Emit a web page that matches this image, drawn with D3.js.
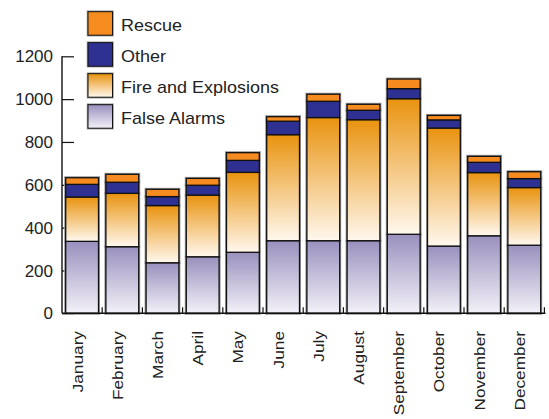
<!DOCTYPE html>
<html><head><meta charset="utf-8">
<script src="https://cdn.jsdelivr.net/npm/d3@7"></script>
<style>body{margin:0;background:#fff;} svg{display:block;}</style>
</head><body>
<svg id="c" width="549" height="419"></svg>
<script>
const months = ["January","February","March","April","May","June","July","August","September","October","November","December"];
const falseAlarms = [336,311,236,264,285,339,339,339,369,314,362,318];
const fireExpl    = [207,249,267,288,373,495,575,565,633,551,295,269];
const other       = [59,52,42,46,56,63,76,44,47,38,48,42];
const rescue      = [31,37,34,32,36,21,33,28,45,21,28,32];
const seriesNames = ["False Alarms","Fire and Explosions","Other","Rescue"];
const yTicks = [0,200,400,600,800,1000,1200];

const svg = d3.select("#c");
const font = "Liberation Sans, Arial, Helvetica, sans-serif";
const defs = svg.append("defs");
function grad(id, top, bottom){
  const g = defs.append("linearGradient").attr("id", id).attr("x1",0).attr("y1",0).attr("x2",0).attr("y2",1);
  g.append("stop").attr("offset","0%").attr("stop-color", top);
  g.append("stop").attr("offset","100%").attr("stop-color", bottom);
}
grad("gFalse", "#9a90be", "#f3f1f8");
grad("gFire", "#e9930f", "#fff8ee");
const fills = {"False Alarms":"url(#gFalse)","Fire and Explosions":"url(#gFire)","Other":"#2e3192","Rescue":"#f68b1f"};

const x = d3.scaleBand().domain(months).range([62, 62 + 12*40.2]).paddingInner(0.184).paddingOuter(0.092);
const y = d3.scaleLinear().domain([0,1200]).range([313.3, 56.3]);

const rows = months.map((m,i)=>({month:m,"False Alarms":falseAlarms[i],"Fire and Explosions":fireExpl[i],"Other":other[i],"Rescue":rescue[i]}));
const stacked = d3.stack().keys(seriesNames)(rows);

// y axis ticks (inward), drawn behind bars
const yAxis = d3.axisRight(y).tickValues(yTicks).tickSize(12).tickFormat("");
const ya = svg.append("g").attr("transform","translate(62,0)").call(yAxis);
ya.select(".domain").remove();
ya.selectAll("line").attr("stroke","#111").attr("stroke-width",1.2);
svg.append("line").attr("x1",62).attr("x2",62).attr("y1",y(1200)).attr("y2",y(0)).attr("stroke","#111").attr("stroke-width",1.4);
svg.append("g").selectAll("text").data(yTicks).join("text")
  .attr("x",53).attr("y",d=>y(d)).attr("dy","0.36em").attr("text-anchor","end")
  .attr("font-family",font).attr("font-size",17).attr("fill","#222").text(d=>d);

// bars
const layers = svg.append("g");
stacked.forEach(layer=>{
  const k = layer.key;
  layers.append("g").selectAll("rect").data(layer).join("rect")
    .attr("x", d=>x(d.data.month)).attr("width", x.bandwidth())
    .attr("y", d=>y(d[1])).attr("height", d=>y(d[0])-y(d[1]))
    .attr("fill", fills[k]).attr("stroke","#999").attr("stroke-width",3);
});
stacked.forEach(layer=>{
  const k = layer.key;
  layers.append("g").selectAll("rect").data(layer).join("rect")
    .attr("x", d=>x(d.data.month)).attr("width", x.bandwidth())
    .attr("y", d=>y(d[1])).attr("height", d=>y(d[0])-y(d[1]))
    .attr("fill", fills[k]).attr("stroke","#111").attr("stroke-width",1.3);
});

// x axis baseline and boundary ticks
const x0 = x.range()[0], x1 = x.range()[1];
svg.append("line").attr("x1",x0).attr("x2",x1+1).attr("y1",y(0)).attr("y2",y(0)).attr("stroke","#111").attr("stroke-width",1.4);
const bounds = months.map(m=>x(m) - x.step()*x.paddingOuter()).slice(1).concat([x1]);
svg.append("g").selectAll("line").data(bounds).join("line")
  .attr("x1",d=>d).attr("x2",d=>d).attr("y1",y(0)).attr("y2",y(0)-6)
  .attr("stroke","#111").attr("stroke-width",1.2);

// x labels
svg.append("g").selectAll("text").data(months).join("text")
  .attr("transform", d=>`translate(${x(d)+x.bandwidth()/2+0.5},331) rotate(-90) scale(1.15,1)`)
  .attr("text-anchor","end").attr("font-family",font).attr("font-size",15).attr("fill","#222")
  .text(d=>d);

// legend
const legendItems = ["Rescue","Other","Fire and Explosions","False Alarms"];
const lg = svg.append("g").selectAll("g").data(legendItems).join("g")
  .attr("transform",(d,i)=>`translate(88,${11.7 + i*31})`);
lg.append("rect").attr("width",24.5).attr("height",23.5).attr("fill",d=>fills[d]).attr("stroke","#999").attr("stroke-width",2.5);
lg.append("rect").attr("width",24.5).attr("height",23.5).attr("fill",d=>fills[d]).attr("stroke","#111").attr("stroke-width",1);
lg.append("text").attr("transform","translate(33,19) scale(1.11,1)").attr("font-family",font).attr("font-size",16.2).attr("fill","#222").text(d=>d);
</script>
</body></html>
